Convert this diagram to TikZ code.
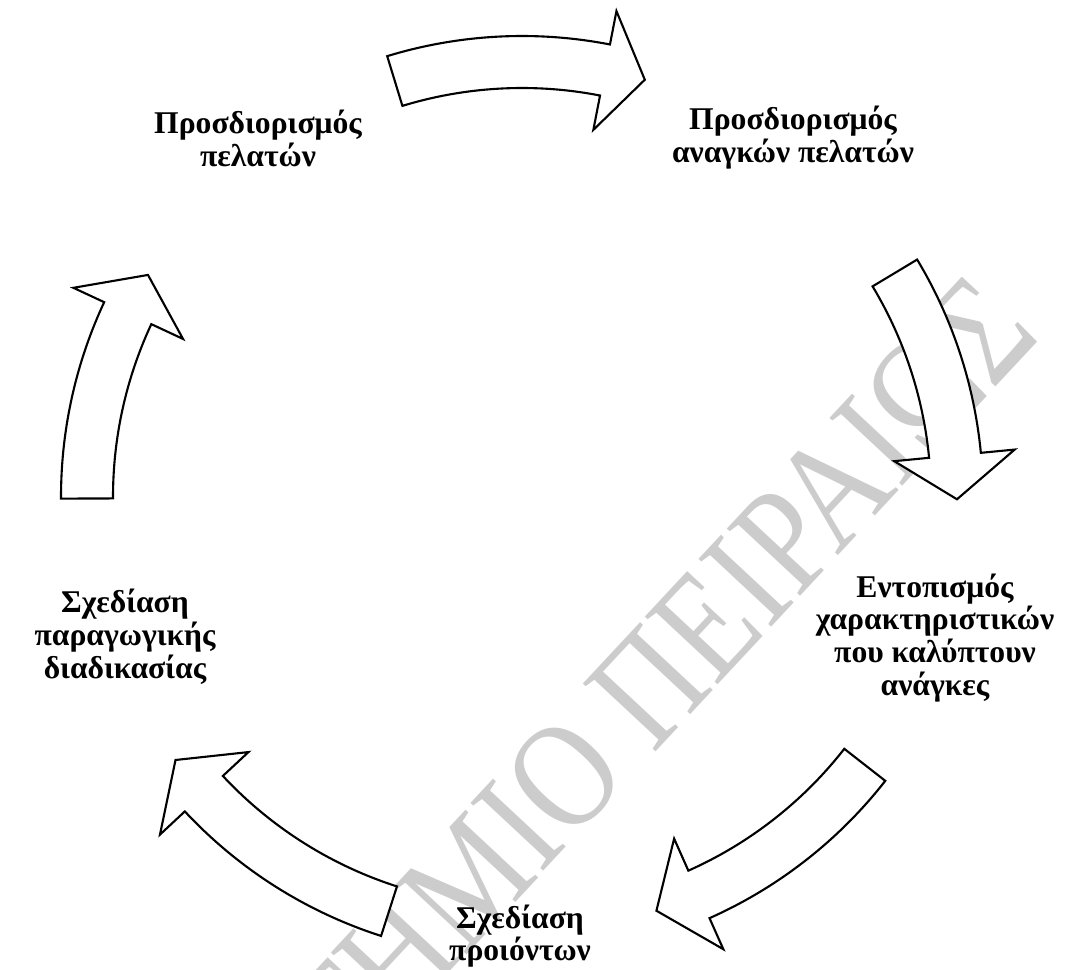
\documentclass[tikz,border=0pt]{standalone}
\usepackage{fontspec}
\setmainfont{Liberation Serif}
\usepackage{tikz}

\begin{document}
\begin{tikzpicture}[
        stage/.style={font=\bfseries\fontsize{13.5}{14}\selectfont, align=center},
        cyclearrow/.style={draw=black, fill=white, line width=0.9pt},
        watermark/.style={text=black!20, font=\fontsize{54}{54}\selectfont}
    ]
    \useasboundingbox (-7.83,-7.08) rectangle (8.16,7.455);

    % watermark of the source
    \node[watermark, transform shape, rotate=47, yscale=1.2, anchor=base east] (wm) at (7.9,2.5) {ΠΑΝΕΠΙΣΤΗΜΙΟ ΠΕΙΡΑΙΩΣ};

    % curved block arrows: tail angle / head base angle / tip angle
    \foreach \ta/\hb/\tp in {107/79/73.6, 31/5.5/-0.3, -38/-66/-72, 252.2/223/217.2, 180.2/155/149.3} {
        \draw[cyclearrow] (\ta:6.915) arc[start angle=\ta, end angle=\hb, radius=6.915]
            -- (\hb:7.425) -- (\tp:6.525) -- (\hb:5.61) -- (\hb:6.135)
            arc[start angle=\hb, end angle=\ta, radius=6.135] -- cycle;
    }

    \node[stage] (cust)  at (-3.96,5.385)  {Προσδιορισμός\\πελατών};
    \node[stage] (needs) at (4.065,5.385)  {Προσδιορισμός\\αναγκών πελατών};
    \node[stage] (feat)  at (6.195,-2.115) {Εντοπισμός\\χαρακτηριστικών\\που καλύπτουν\\ανάγκες};
    \node[stage] (prod)  at (-0.03,-6.585) {Σχεδίαση\\προιόντων};
    \node[stage] (proc)  at (-5.955,-2.1)  {Σχεδίαση\\παραγωγικής\\διαδικασίας};
\end{tikzpicture}
\end{document}
